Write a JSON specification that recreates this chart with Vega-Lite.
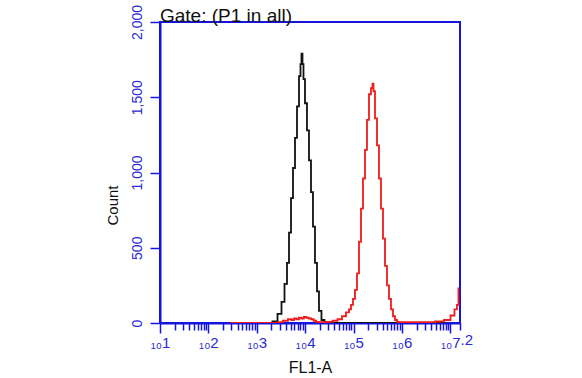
{
  "$schema": "https://vega.github.io/schema/vega-lite/v6.json",
  "width": 300,
  "height": 301,
  "autosize": {"type": "none"},
  "padding": {"left": 160, "top": 22, "right": 122, "bottom": 55},
  "background": "white",
  "title": {"text": "Gate: (P1 in all)", "anchor": "start", "fontSize": 19, "font": "Liberation Sans", "fontWeight": "normal", "color": "#111111", "baseline": "alphabetic", "offset": -37, "dx": 55},
  "config": {"view": {"stroke": "#1414dc", "strokeWidth": 2}, "font": "Liberation Sans"},
  "data": {"values": [
    {"series": "control", "x": 2.60, "count": 0},
    {"series": "control", "x": 3.27, "count": 0},
    {"series": "control", "x": 3.377, "count": 10},
    {"series": "control", "x": 3.48, "count": 60},
    {"series": "control", "x": 3.542, "count": 140},
    {"series": "control", "x": 3.604, "count": 260},
    {"series": "control", "x": 3.645, "count": 400},
    {"series": "control", "x": 3.687, "count": 600},
    {"series": "control", "x": 3.728, "count": 830},
    {"series": "control", "x": 3.769, "count": 1030},
    {"series": "control", "x": 3.811, "count": 1230},
    {"series": "control", "x": 3.852, "count": 1440},
    {"series": "control", "x": 3.893, "count": 1640},
    {"series": "control", "x": 3.914, "count": 1720},
    {"series": "control", "x": 3.934, "count": 1790},
    {"series": "control", "x": 3.955, "count": 1720},
    {"series": "control", "x": 3.976, "count": 1620},
    {"series": "control", "x": 4.017, "count": 1460},
    {"series": "control", "x": 4.058, "count": 1280},
    {"series": "control", "x": 4.100, "count": 1080},
    {"series": "control", "x": 4.141, "count": 870},
    {"series": "control", "x": 4.182, "count": 640},
    {"series": "control", "x": 4.224, "count": 400},
    {"series": "control", "x": 4.265, "count": 210},
    {"series": "control", "x": 4.306, "count": 80},
    {"series": "control", "x": 4.368, "count": 20},
    {"series": "control", "x": 4.430, "count": 5},
    {"series": "control", "x": 4.513, "count": 0},
    {"series": "control", "x": 6.9, "count": 0},
    {"series": "sample", "x": 2.447, "count": 0},
    {"series": "sample", "x": 3.40, "count": 0},
    {"series": "sample", "x": 3.48, "count": 5},
    {"series": "sample", "x": 3.60, "count": 15},
    {"series": "sample", "x": 3.687, "count": 25},
    {"series": "sample", "x": 3.75, "count": 20},
    {"series": "sample", "x": 3.79, "count": 30},
    {"series": "sample", "x": 3.85, "count": 25},
    {"series": "sample", "x": 3.893, "count": 35},
    {"series": "sample", "x": 3.95, "count": 30},
    {"series": "sample", "x": 3.997, "count": 40},
    {"series": "sample", "x": 4.05, "count": 35},
    {"series": "sample", "x": 4.10, "count": 30},
    {"series": "sample", "x": 4.15, "count": 25},
    {"series": "sample", "x": 4.203, "count": 15},
    {"series": "sample", "x": 4.25, "count": 8},
    {"series": "sample", "x": 4.306, "count": 5},
    {"series": "sample", "x": 4.41, "count": 5},
    {"series": "sample", "x": 4.513, "count": 8},
    {"series": "sample", "x": 4.616, "count": 15},
    {"series": "sample", "x": 4.72, "count": 25},
    {"series": "sample", "x": 4.802, "count": 45},
    {"series": "sample", "x": 4.885, "count": 70},
    {"series": "sample", "x": 4.926, "count": 90},
    {"series": "sample", "x": 4.968, "count": 120},
    {"series": "sample", "x": 5.009, "count": 160},
    {"series": "sample", "x": 5.05, "count": 220},
    {"series": "sample", "x": 5.092, "count": 330},
    {"series": "sample", "x": 5.133, "count": 540},
    {"series": "sample", "x": 5.174, "count": 760},
    {"series": "sample", "x": 5.216, "count": 960},
    {"series": "sample", "x": 5.257, "count": 1150},
    {"series": "sample", "x": 5.298, "count": 1350},
    {"series": "sample", "x": 5.34, "count": 1520},
    {"series": "sample", "x": 5.381, "count": 1560},
    {"series": "sample", "x": 5.402, "count": 1590},
    {"series": "sample", "x": 5.422, "count": 1540},
    {"series": "sample", "x": 5.464, "count": 1360},
    {"series": "sample", "x": 5.505, "count": 1180},
    {"series": "sample", "x": 5.546, "count": 960},
    {"series": "sample", "x": 5.588, "count": 760},
    {"series": "sample", "x": 5.629, "count": 560},
    {"series": "sample", "x": 5.67, "count": 380},
    {"series": "sample", "x": 5.712, "count": 250},
    {"series": "sample", "x": 5.753, "count": 160},
    {"series": "sample", "x": 5.794, "count": 90},
    {"series": "sample", "x": 5.836, "count": 45},
    {"series": "sample", "x": 5.877, "count": 20},
    {"series": "sample", "x": 5.918, "count": 8},
    {"series": "sample", "x": 5.96, "count": 5},
    {"series": "sample", "x": 6.166, "count": 6},
    {"series": "sample", "x": 6.373, "count": 5},
    {"series": "sample", "x": 6.58, "count": 6},
    {"series": "sample", "x": 6.786, "count": 10},
    {"series": "sample", "x": 6.952, "count": 20},
    {"series": "sample", "x": 7.055, "count": 50},
    {"series": "sample", "x": 7.117, "count": 90},
    {"series": "sample", "x": 7.158, "count": 120},
    {"series": "sample", "x": 7.179, "count": 230}
  ]},
  "mark": {"type": "line", "interpolate": "step", "strokeWidth": 1.8, "clip": true},
  "encoding": {
    "x": {
      "field": "x", "type": "quantitative",
      "scale": {"domain": [1, 7.2], "nice": false, "zero": false},
      "axis": {
        "title": "FL1-A",
        "values": [1, 1.301, 1.477, 1.602, 1.699, 1.778, 1.845, 1.903, 1.954,
                   2, 2.301, 2.477, 2.602, 2.699, 2.778, 2.845, 2.903, 2.954,
                   3, 3.301, 3.477, 3.602, 3.699, 3.778, 3.845, 3.903, 3.954,
                   4, 4.301, 4.477, 4.602, 4.699, 4.778, 4.845, 4.903, 4.954,
                   5, 5.301, 5.477, 5.602, 5.699, 5.778, 5.845, 5.903, 5.954,
                   6, 6.301, 6.477, 6.602, 6.699, 6.778, 6.845, 6.903, 6.954,
                   7, 7.2],
        "labelExpr": "datum.value == 7.2 ? '.2' : (datum.value % 1 == 0 ? '₁₀' + datum.value : '')",
        "labelAlign": {"condition": {"test": "datum.value == 7.2", "value": "left"}, "value": "center"},
        "labelFlush": false,
        "labelOverlap": false,
        "labelBound": false,
        "labelColor": "#2a2ad2",
        "labelFontSize": 15,
        "labelPadding": 2,
        "tickSize": {"condition": {"test": "datum.value % 1 == 0", "value": 10}, "value": 7},
        "tickColor": "#1414dc",
        "tickWidth": 1.5,
        "domainColor": "#1414dc",
        "domainWidth": 2,
        "grid": false,
        "titleColor": "#111111",
        "titleFontSize": 16,
        "titleFontWeight": "normal",
        "titleBaseline": "alphabetic",
        "titleY": 49
      }
    },
    "y": {
      "field": "count", "type": "quantitative",
      "scale": {"domain": [0, 2000], "nice": false},
      "axis": {
        "title": "Count",
        "values": [0, 500, 1000, 1500, 2000],
        "format": ",.0f",
        "labelAngle": -90,
        "labelAlign": "center",
        "labelBaseline": "bottom",
        "labelColor": "#2a2ad2",
        "labelFontSize": 14,
        "labelPadding": 6,
        "tickSize": 10,
        "tickColor": "#1414dc",
        "tickWidth": 1.5,
        "domainColor": "#1414dc",
        "domainWidth": 2,
        "grid": false,
        "titleColor": "#111111",
        "titleFontSize": 15,
        "titleFontWeight": "normal",
        "titleAngle": -90,
        "titleBaseline": "alphabetic",
        "titleAlign": "center",
        "titleX": -43,
        "titleY": 183
      }
    },
    "color": {
      "field": "series", "type": "nominal",
      "scale": {"domain": ["control", "sample"], "range": ["#111111", "#ee1c1c"]},
      "legend": null
    }
  }
}
